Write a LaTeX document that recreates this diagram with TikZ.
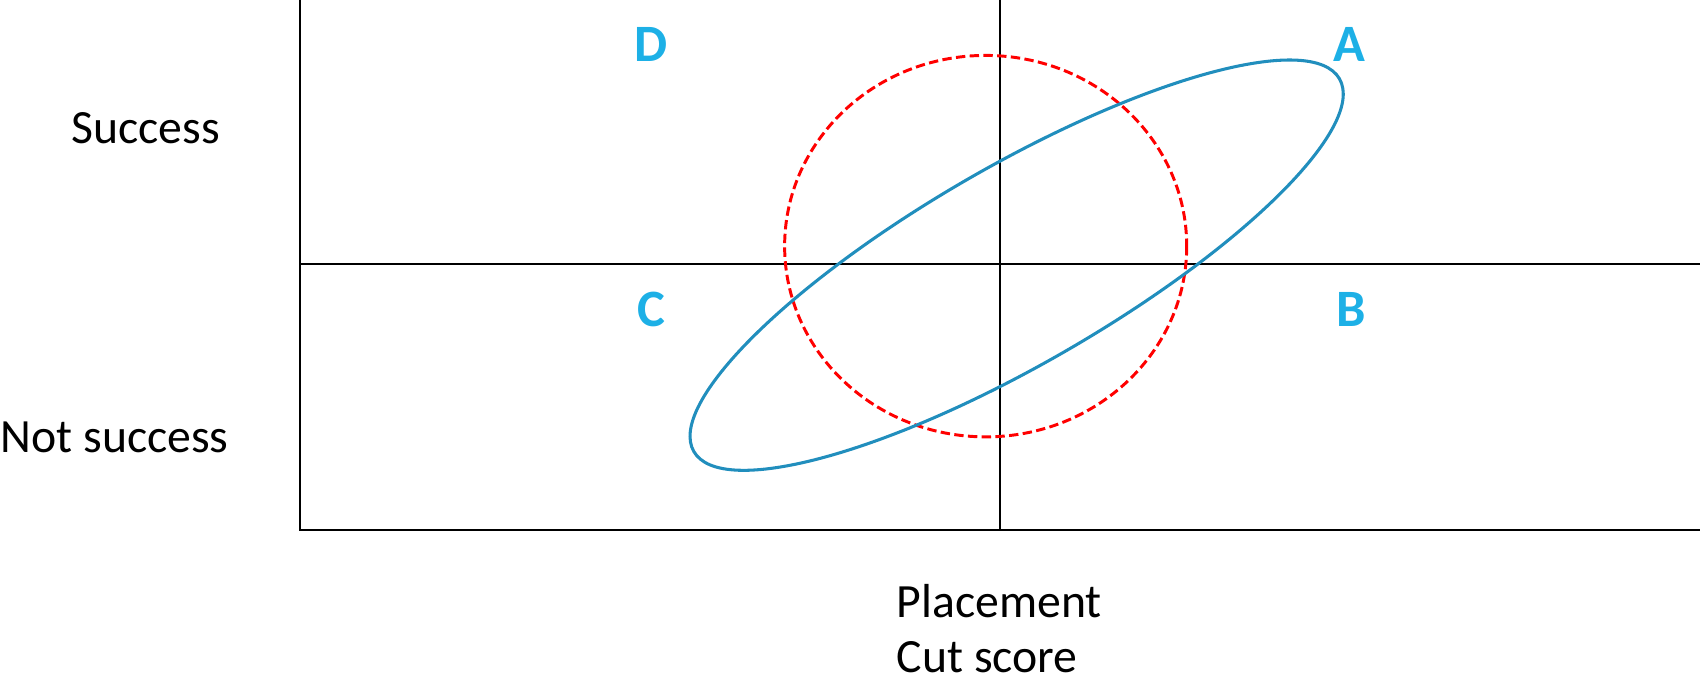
\documentclass[tikz,border=0pt]{standalone}
\usepackage{fontspec}
\setmainfont{Carlito}
\definecolor{lettc}{RGB}{29,176,230}
\definecolor{ellc}{RGB}{33,142,189}
\definecolor{dashred}{RGB}{255,0,0}
\begin{document}
\begin{tikzpicture}[x=0.02cm,y=-0.02cm,
  axisline/.style={line width=1.05pt,black},
  lbl/.style={font=\fontsize{25}{30}\selectfont,inner sep=0pt},
  quad/.style={font=\fontsize{27.5}{32}\selectfont\bfseries,text=lettc,inner sep=0pt},
  scatter/.style={line width=1.6pt,draw=ellc},
  truecirc/.style={line width=1.55pt,draw=dashred,dash pattern=on 4.9pt off 2.3pt}]
\useasboundingbox (0,0) rectangle (1568,628);
% axes
\coordinate (tl) at (276,0);
\coordinate (bl) at (276,488);
\coordinate (br) at (1564,488);
\coordinate (ml) at (276,243);
\coordinate (mr) at (1564,243);
\coordinate (vt) at (920,0);
\coordinate (vb) at (920,488);
\draw[axisline] (tl) -- (bl) -- (br);
\draw[axisline] (ml) -- (mr);
\draw[axisline] (vt) -- (vb);
% circle
\draw[truecirc] (907,226.5) ellipse [x radius=185, y radius=175.5];
% ellipse
\draw[scatter,rotate around={30:(935.5,244)}] (935.5,244) ellipse [x radius=343, y radius=91];
% letters
\node[quad] (D) at (599,40.5) {D};
\node[quad] (A) at (1242,40.5) {A};
\node[quad] (C) at (599,285) {C};
\node[quad] (B) at (1243,285) {B};
% labels
\node[lbl,anchor=base] (succ) at (134,132) {Success};
\node[lbl,anchor=base] (nsucc) at (105.5,416) {Not success};
\node[lbl,anchor=base west] (place) at (825,568) {Placement};
\node[lbl,anchor=base west] (cut) at (825,619) {Cut score};
\end{tikzpicture}
\end{document}
